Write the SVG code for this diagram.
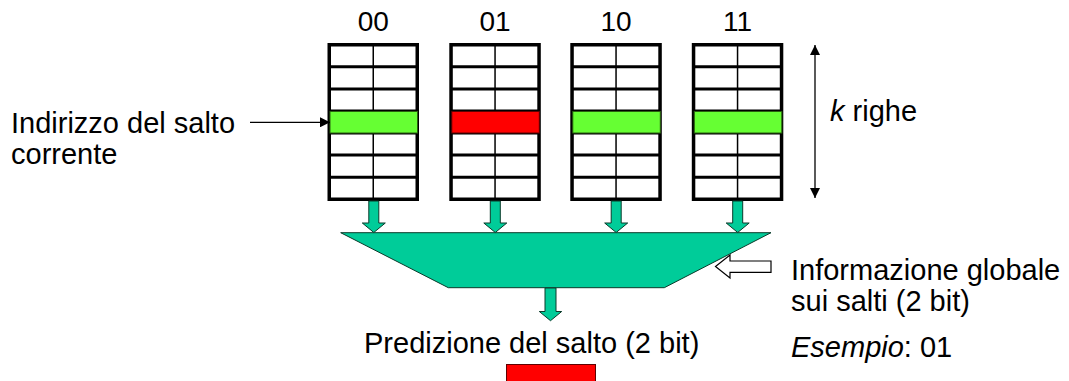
<svg xmlns="http://www.w3.org/2000/svg" xmlns:xlink="http://www.w3.org/1999/xlink" width="1069" height="381" viewBox="0 0 1069 381">
<style>
  text { font-family: "Liberation Sans", Arial, sans-serif; font-size: 29px; fill: #000; }
  .lbl { text-anchor: middle; font-size: 28px; }
  .frame { fill: #fff; stroke: #000; stroke-width: 3.5; }
  .sep { stroke: #000; stroke-width: 3; }
  .mid { stroke: #000; stroke-width: 1.5; }
  .green { fill: #66FF33; stroke: #2a6010; stroke-width: 1; }
  .red { fill: #FF0000; stroke: #600000; stroke-width: 1; }
  .teal { fill: #00CC99; stroke: #0a3a2a; stroke-width: 1; }
  .hollow { fill: #fff; stroke: #000; stroke-width: 1.2; }
  .thin { stroke: #000; stroke-width: 1.3; fill: none; }
</style>
<defs>
  <g id="tbl">
    <rect class="frame" x="1.75" y="44.75" width="88" height="154.5"/>
    <line class="mid" x1="45.75" y1="44.75" x2="45.75" y2="199.25"/>
    <line class="sep" x1="1.75" y1="66.8" x2="89.75" y2="66.8"/>
    <line class="sep" x1="1.75" y1="88.9" x2="89.75" y2="88.9"/>
    <line class="sep" x1="1.75" y1="110.9" x2="89.75" y2="110.9"/>
    <line class="sep" x1="1.75" y1="133" x2="89.75" y2="133"/>
    <line class="sep" x1="1.75" y1="155.1" x2="89.75" y2="155.1"/>
    <line class="sep" x1="1.75" y1="177.2" x2="89.75" y2="177.2"/>
  </g>
  <path id="blk" d="M -5,201 L 5,201 L 5,223 L 11.5,223 L 0,232.5 L -11.5,223 L -5,223 Z"/>
  <marker id="ah" viewBox="0 0 10 10" refX="10" refY="5" markerWidth="10" markerHeight="10" markerUnits="userSpaceOnUse" orient="auto-start-reverse">
    <path d="M0,0 L10,5 L0,10 Z" fill="#000"/>
  </marker>
</defs>

<g id="table-00">
  <use xlink:href="#tbl" x="327.5"/>
  <rect class="green" x="330" y="111.5" width="87.5" height="21.5"/>
  <text class="lbl" x="373.25" y="31">00</text>
</g>
<g id="table-01">
  <use xlink:href="#tbl" x="449.3"/>
  <rect class="red" x="451.8" y="111.5" width="87.5" height="21.5"/>
  <text class="lbl" x="495.05" y="31">01</text>
</g>
<g id="table-10">
  <use xlink:href="#tbl" x="570.3"/>
  <rect class="green" x="572.8" y="111.5" width="87.5" height="21.5"/>
  <text class="lbl" x="616.05" y="31">10</text>
</g>
<g id="table-11">
  <use xlink:href="#tbl" x="691.8"/>
  <rect class="green" x="694.3" y="111.5" width="87.5" height="21.5"/>
  <text class="lbl" x="737.55" y="31">11</text>
</g>

<g id="mux">
  <polygon class="teal" points="340.7,232.7 771,232.7 664.3,287.7 448.3,287.7"/>
</g>

<g id="addr-label">
  <text x="11" y="133">Indirizzo del salto</text>
  <text x="11" y="164">corrente</text>
</g>

<g id="k-label">
  <text x="830" y="121"><tspan font-style="italic">k</tspan> righe</text>
</g>

<g id="global-label">
  <text x="791" y="280">Informazione globale</text>
  <text x="791" y="311">sui salti (2 bit)</text>
  <text x="791" y="357"><tspan font-style="italic">Esempio</tspan>: 01</text>
</g>

<g id="prediction">
  <text x="364" y="353">Predizione del salto (2 bit)</text>
  <rect class="red" x="506.5" y="364.5" width="89" height="22"/>
</g>

<g id="connectors">
  <line class="thin" x1="250" y1="122.3" x2="330" y2="122.3" marker-end="url(#ah)"/>
  <line class="thin" x1="815" y1="45" x2="815" y2="198" marker-start="url(#ah)" marker-end="url(#ah)"/>
  <use xlink:href="#blk" class="teal" x="373.8"/>
  <use xlink:href="#blk" class="teal" x="495.3"/>
  <use xlink:href="#blk" class="teal" x="616.2"/>
  <use xlink:href="#blk" class="teal" x="737.7"/>
  <path class="teal" d="M 545,288 L 556,288 L 556,311.5 L 561.7,311.5 L 550.5,320.7 L 539.3,311.5 L 545,311.5 Z"/>
  <path class="hollow" d="M 771,261 L 730,261 L 730,255 L 715.5,266.5 L 730,278 L 730,272.3 L 771,272.3 Z"/>
</g>
</svg>
